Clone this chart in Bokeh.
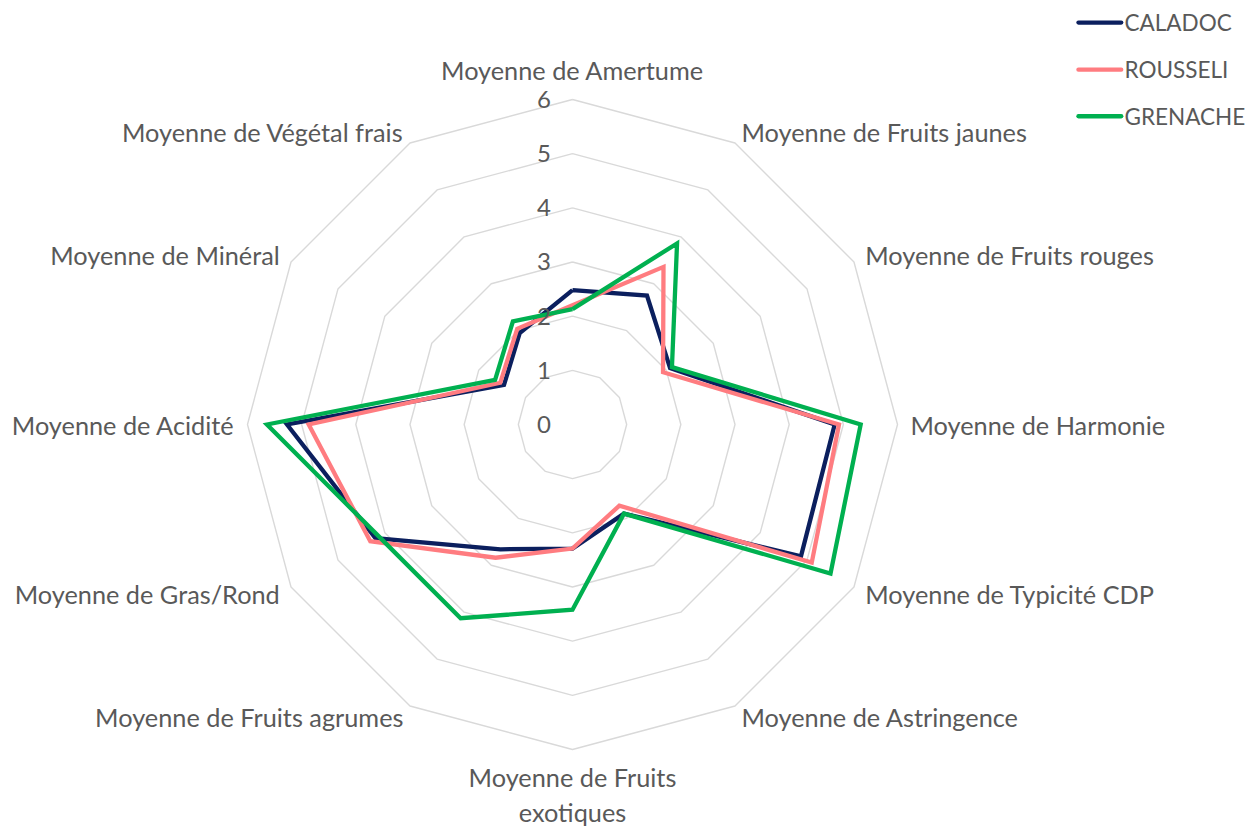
import math
from bokeh.plotting import figure
from bokeh.models import Range1d
from bokeh.core.properties import value
from bokeh.embed import file_html
from bokeh.resources import INLINE

# ---------------- data ----------------
categories = ["Moyenne de Amertume", "Moyenne de Fruits jaunes", "Moyenne de Fruits rouges",
              "Moyenne de Harmonie", "Moyenne de Typicité CDP", "Moyenne de Astringence",
              "Moyenne de Fruits exotiques", "Moyenne de Fruits agrumes", "Moyenne de Gras/Rond",
              "Moyenne de Acidité", "Moyenne de Minéral", "Moyenne de Végétal frais"]
series_names = ["CALADOC", "ROUSSELI", "GRENACHE"]
caladoc = [2.48, 2.75, 2.08, 4.84, 4.87, 1.90, 2.29, 2.66, 4.20, 5.27, 1.46, 1.95]
rousseli = [2.20, 3.36, 1.93, 4.92, 5.10, 1.73, 2.29, 2.84, 4.31, 4.87, 1.54, 2.04]
grenache = [2.13, 3.86, 2.12, 5.32, 5.50, 1.90, 3.42, 4.13, 4.13, 5.64, 1.65, 2.20]
tick_values = [0, 1, 2, 3, 4, 5, 6]
tick_labels = ["0", "1", "2", "3", "4", "5", "6"]

# ---------------- style ----------------
series_colors = ["#0b1f5e", "#ff7c80", "#00b050"]
TEXT_COLOR = "#595959"
GRID_COLOR = "#d9d9d9"
FONT = "Lato"
FS_CAT = "25.3px"
FS_TICK = "24px"
FS_LEG = "22.5px"

W, H = 1249, 827
UNIT = 54.17          # pixels per value unit
CX, CY = 572, 424     # centre of the radar in figure pixels
RMAX = 6
N = len(categories)

def ang(k):
    return math.pi / 2 - k * 2 * math.pi / N

def polar(r, k):
    a = ang(k)
    return r * math.cos(a), r * math.sin(a)

p = figure(width=W, height=H, output_backend="svg", toolbar_location=None,
           x_range=Range1d(-CX / UNIT, (W - CX) / UNIT),
           y_range=Range1d(-(H - CY) / UNIT, CY / UNIT),
           min_border=0, outline_line_color=None)
p.axis.visible = False
p.grid.visible = False
p.background_fill_color = "white"
p.border_fill_color = "white"

# rings
for t in tick_values[1:]:
    xs = [polar(t, k)[0] for k in range(N)] + [polar(t, 0)[0]]
    ys = [polar(t, k)[1] for k in range(N)] + [polar(t, 0)[1]]
    p.line(xs, ys, line_color=GRID_COLOR, line_width=1.4)

# series
for vals, col in zip([caladoc, rousseli, grenache], series_colors):
    xs = [polar(v, k)[0] for k, v in enumerate(vals)]
    ys = [polar(v, k)[1] for k, v in enumerate(vals)]
    xs.append(xs[0]); ys.append(ys[0])
    p.line(xs, ys, line_color=col, line_width=4.3, line_join="miter")

# value labels
p.text(x=[-0.40] * len(tick_values), y=tick_values, text=tick_labels,
       text_font=value(FONT), text_font_size=FS_TICK, text_color=TEXT_COLOR,
       text_align="right", text_baseline="middle")

# category labels
LR = RMAX + 0.24
for k, name in enumerate(categories):
    x, y = polar(LR, k)
    deg = math.degrees(ang(k)) % 360
    if abs(deg - 90) < 1:
        p.text(x=[0], y=[6.55], text=[name], text_font=value(FONT), text_font_size=FS_CAT,
               text_color=TEXT_COLOR, text_align="center", text_baseline="middle")
    elif abs(deg - 270) < 1:
        txt = name.replace("Fruits exotiques", "Fruits\nexotiques")
        p.text(x=[0], y=[-6.83], text=[txt], text_font=value(FONT), text_font_size=FS_CAT,
               text_color=TEXT_COLOR, text_align="center", text_baseline="middle",
               text_line_height=1.19)
    else:
        align = "left" if (deg < 90 or deg > 270) else "right"
        p.text(x=[x], y=[y], text=[name], text_font=value(FONT), text_font_size=FS_CAT,
               text_color=TEXT_COLOR, text_align=align, text_baseline="middle")

# legend (manual)
leg_x0, leg_x1, leg_tx = 9.34, 10.13, 10.19
leg_y = [7.42, 6.55, 5.69]
for name, col, yy in zip(series_names, series_colors, leg_y):
    p.segment(x0=[leg_x0], y0=[yy], x1=[leg_x1], y1=[yy], line_color=col, line_width=4.3,
              line_cap="round")
    p.text(x=[leg_tx], y=[yy], text=[name], text_font=value(FONT), text_font_size=FS_LEG,
           text_color=TEXT_COLOR, text_align="left", text_baseline="middle")

open("out.html", "w").write(file_html(p, INLINE))
